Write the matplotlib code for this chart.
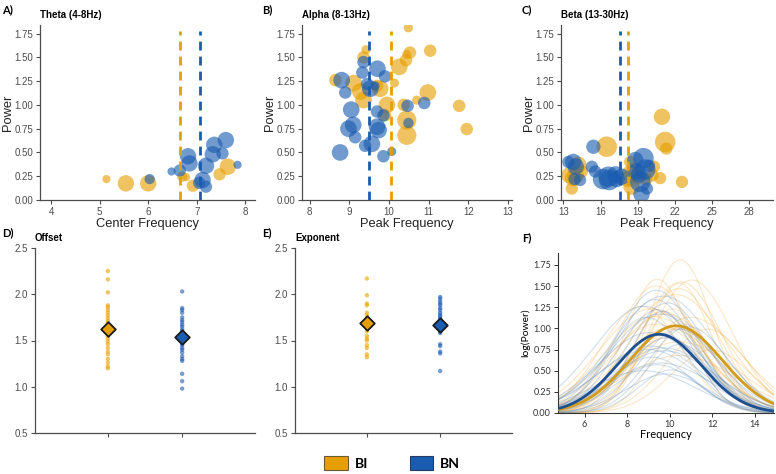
import numpy as np
import matplotlib
matplotlib.use("Agg")
import matplotlib.pyplot as plt
from matplotlib.patches import Patch

# ---------------- data ----------------
groups = ["BI", "BN"]
colors = ["#E69F00", "#1A5CB0"]

# Theta
theta_bi_cf = [5.14, 5.54, 6.00, 6.70, 6.78, 6.92, 7.47, 7.64]
theta_bi_pw = [0.22, 0.175, 0.175, 0.245, 0.24, 0.15, 0.27, 0.35]
theta_bi_bw = [2.0, 4.0, 4.0, 2.5, 2.0, 3.0, 3.0, 4.0]
theta_bn_cf = [6.03, 6.48, 6.65, 6.82, 6.85, 7.05, 7.12, 7.19, 7.19, 7.33, 7.36, 7.53, 7.60, 7.84]
theta_bn_pw = [0.22, 0.30, 0.31, 0.46, 0.385, 0.18, 0.21, 0.14, 0.36, 0.48, 0.58, 0.49, 0.63, 0.37]
theta_bn_bw = [2.5, 2.0, 3.0, 4.0, 4.0, 3.0, 4.0, 3.0, 4.0, 4.0, 4.0, 3.0, 4.0, 2.0]
theta_mean_cf = [6.66, 7.06]

# Alpha
alpha_bi_cf = [10.49, 11.04, 10.53, 10.45, 10.43, 10.26, 9.42, 9.36, 10.14, 8.65, 9.11, 9.28,
               9.36, 9.78, 9.95, 10.37, 10.70, 10.98, 11.77, 11.96, 10.45, 10.45, 9.90, 9.70]
alpha_bi_pw = [1.81, 1.57, 1.55, 1.53, 1.47, 1.40, 1.58, 1.50, 1.23, 1.26, 1.23, 1.14,
               1.05, 1.17, 1.00, 1.00, 1.05, 1.13, 0.99, 0.746, 0.84, 0.68, 0.89, 1.20]
alpha_bi_bw = [2.2, 3.0, 3.0, 2.2, 3.0, 4.0, 2.2, 3.0, 2.2, 3.0, 4.0, 4.0,
               4.0, 4.0, 4.0, 3.0, 2.2, 4.0, 3.0, 3.0, 4.6, 4.6, 3.0, 3.0]
alpha_bn_cf = [8.77, 9.40, 9.57, 9.86, 10.07, 9.15, 8.98, 9.10, 9.74, 9.70, 9.05, 9.70, 9.86,
               10.47, 10.49, 10.89, 8.90, 8.81, 9.33, 9.36, 9.71, 9.90, 9.53, 9.65, 9.45]
alpha_bn_pw = [0.50, 0.57, 0.59, 0.46, 0.51, 0.66, 0.75, 0.79, 0.735, 0.77, 0.95, 0.93, 0.89,
               0.99, 0.81, 1.02, 1.13, 1.26, 1.34, 1.45, 1.38, 1.30, 1.17, 1.20, 1.22]
alpha_bn_bw = [4.0, 3.0, 4.0, 3.0, 2.2, 3.0, 4.0, 4.0, 4.0, 4.0, 4.0, 3.0, 3.0,
               3.0, 2.5, 3.0, 3.0, 4.0, 3.0, 3.0, 4.0, 3.0, 4.0, 2.2, 3.0]
alpha_mean_cf = [10.04, 9.51]

# Beta
beta_bi_cf = [20.95, 21.21, 21.3, 16.5, 22.56, 20.8, 18.38, 18.4, 18.5, 13.68, 13.8, 14.2, 20.3,
              19.0, 14.5, 14.0, 13.5, 18.2, 19.7, 20.2, 18.6]
beta_bi_pw = [0.875, 0.61, 0.54, 0.56, 0.19, 0.23, 0.40, 0.28, 0.14, 0.12, 0.23, 0.37, 0.35,
              0.25, 0.30, 0.26, 0.26, 0.22, 0.22, 0.26, 0.33]
beta_bi_bw = [4.0, 5.0, 3.0, 5.0, 3.0, 3.0, 3.0, 4.0, 4.0, 3.0, 4.0, 4.0, 3.0,
              4.0, 3.0, 4.0, 4.0, 4.0, 3.0, 3.0, 3.0]
beta_bn_cf = [15.42, 13.4, 13.8, 15.3, 15.56, 16.64, 16.7, 17.7, 19.46, 19.6, 19.2, 19.74, 14.35,
              19.9, 17.3, 18.9, 14.0, 13.9, 16.2, 17.2, 19.3, 18.8, 19.1]
beta_bn_pw = [0.56, 0.40, 0.40, 0.35, 0.30, 0.245, 0.21, 0.245, 0.44, 0.32, 0.19, 0.12, 0.21,
              0.36, 0.22, 0.30, 0.35, 0.22, 0.22, 0.27, 0.06, 0.42, 0.27]
beta_bn_bw = [3.5, 3.0, 4.0, 3.0, 3.0, 5.0, 5.0, 4.0, 5.0, 5.0, 5.0, 3.0, 3.0,
              3.0, 4.0, 4.0, 4.0, 3.0, 5.0, 4.0, 4.0, 4.0, 4.0]
beta_mean_cf = [18.25, 17.6]

# Offset / exponent
offset_bi = [2.25, 2.16, 2.02, 1.88, 1.86, 1.83, 1.80, 1.77, 1.74, 1.71, 1.69, 1.67, 1.64, 1.62,
             1.60, 1.58, 1.55, 1.52, 1.49, 1.46, 1.42, 1.38, 1.35, 1.30, 1.26, 1.22, 1.20]
offset_bn = [2.03, 1.85, 1.83, 1.80, 1.75, 1.72, 1.70, 1.67, 1.65, 1.62, 1.60, 1.58, 1.55,
             1.52, 1.50, 1.47, 1.45, 1.42, 1.40, 1.37, 1.33, 1.30, 1.28, 1.14, 1.06, 0.98]
offset_mean = [1.62, 1.54]
exponent_bi = [2.17, 1.99, 1.90, 1.88, 1.80, 1.77, 1.73, 1.70, 1.68, 1.65, 1.60, 1.55,
               1.52, 1.50, 1.45, 1.42, 1.35, 1.32]
exponent_bn = [1.97, 1.95, 1.92, 1.90, 1.88, 1.85, 1.83, 1.80, 1.78, 1.76, 1.74, 1.72,
               1.70, 1.68, 1.66, 1.64, 1.62, 1.60, 1.58, 1.46, 1.44, 1.38, 1.36, 1.17]
exponent_mean = [1.69, 1.67]

# Group-average alpha peak (panel F): centre, height, sd
mean_peak_cf = [10.3, 9.5]
mean_peak_pw = [1.03, 0.93]
mean_peak_sd = [2.17, 1.98]

# ---------------- figure ----------------
W, H = 776, 474
fig = plt.figure(figsize=(W / 100, H / 100), dpi=100)

def rect(l, t, r, b):
    return [l / W, (H - b) / H, (r - l) / W, (b - t) / H]

axis_col = "#4d4d4d"
SANS = ["Liberation Sans", "DejaVu Sans"]
LATO = ["Lato", "DejaVu Sans"]

def style_gg(ax):
    for s in ["top", "right"]:
        ax.spines[s].set_visible(False)
    for s in ["left", "bottom"]:
        ax.spines[s].set_color(axis_col)
        ax.spines[s].set_linewidth(0.9)
    ax.tick_params(colors=axis_col, labelcolor="#4d4d4d", length=3, width=0.8,
                   labelsize=7, pad=2)
    for lab in ax.get_xticklabels() + ax.get_yticklabels():
        lab.set_family(SANS)

def bubble_panel(ax, bi, bn, means, xlim, xticks, title, xlabel, k):
    for (cf, pw, bw), c in zip([bi, bn], colors):
        s = [(k * b) ** 2 for b in bw]
        ax.scatter(cf, pw, s=s, color=c, alpha=0.62, edgecolors="none", zorder=2)
    for m, c in zip(means, colors):
        ax.vlines(m, 0, 1.78, colors=c, linestyles=(0, (3.2, 2.2)), linewidth=2.0, zorder=3)
    ax.set_xlim(*xlim)
    ax.set_ylim(0, 1.84)
    ax.set_xticks(xticks)
    ax.set_yticks([0, 0.25, 0.5, 0.75, 1.0, 1.25, 1.5, 1.75])
    ax.set_yticklabels(["0.00", "0.25", "0.50", "0.75", "1.00", "1.25", "1.50", "1.75"])
    style_gg(ax)
    ax.set_xlabel(xlabel, fontsize=9.3, family=SANS, labelpad=1, color="#222222")
    ax.set_ylabel("Power", fontsize=9.3, family=SANS, labelpad=0.5, color="#222222")
    ax.set_title(title, loc="left", fontsize=7, fontweight="bold", family=SANS, pad=5)

axA = fig.add_axes(rect(40, 25, 255, 200))
bubble_panel(axA, (theta_bi_cf, theta_bi_pw, theta_bi_bw), (theta_bn_cf, theta_bn_pw, theta_bn_bw),
             theta_mean_cf, (3.77, 8.2), [4, 5, 6, 7, 8], "Theta (4-8Hz)", "Center Frequency", 2.95)
axB = fig.add_axes(rect(302, 25, 512, 200))
bubble_panel(axB, (alpha_bi_cf, alpha_bi_pw, alpha_bi_bw), (alpha_bn_cf, alpha_bn_pw, alpha_bn_bw),
             alpha_mean_cf, (7.81, 13.1), [8, 9, 10, 11, 12, 13], "Alpha (8-13Hz)", "Peak Frequency", 3.0)
axC = fig.add_axes(rect(561, 25, 773, 200))
bubble_panel(axC, (beta_bi_cf, beta_bi_pw, beta_bi_bw), (beta_bn_cf, beta_bn_pw, beta_bn_bw),
             beta_mean_cf, (12.81, 29.9), [13, 16, 19, 22, 25, 28], "Beta (13-30Hz)", "Peak Frequency", 2.95)

def strip_panel(ax, vals, means, title):
    for i, (v, m, c) in enumerate(zip(vals, means, colors)):
        ax.scatter([i + 1] * len(v), v, s=10, color=c, alpha=0.6, edgecolors="none", zorder=2)
        ax.scatter([i + 1], [m], s=55, marker="D", color=c, edgecolors="#1a1a1a",
                   linewidths=1.3, zorder=3)
    ax.set_xlim(0.02, 2.98)
    ax.set_ylim(0.5, 2.5)
    ax.set_xticks([1, 2])
    ax.set_xticklabels(["", ""])
    ax.set_yticks([0.5, 1.0, 1.5, 2.0, 2.5])
    style_gg(ax)
    ax.set_title(title, loc="left", fontsize=7, fontweight="bold", family=SANS, pad=5)

axD = fig.add_axes(rect(35, 248, 255, 433))
strip_panel(axD, [offset_bi, offset_bn], offset_mean, "Offset")
axE = fig.add_axes(rect(295, 248, 512, 433))
strip_panel(axE, [exponent_bi, exponent_bn], exponent_mean, "Exponent")

# Panel F
axF = fig.add_axes(rect(558, 253, 774, 413))
freqs = np.linspace(4.75, 14.9, 300)
line_cols = ["#F2A93B", "#5B8DBF"]
for (cf, pw, bw), c in zip([(alpha_bi_cf, alpha_bi_pw, alpha_bi_bw),
                            (alpha_bn_cf, alpha_bn_pw, alpha_bn_bw)], line_cols):
    for f0, p0, b0 in zip(cf, pw, bw):
        sd = b0 / 2 + 0.4
        axF.plot(freqs, p0 * np.exp(-(freqs - f0) ** 2 / (2 * sd ** 2)), color=c,
                 alpha=0.28, linewidth=0.8, zorder=1)
mean_cols = ["#D39B1C", "#1D4F91"]
for f0, p0, sd, c in zip(mean_peak_cf, mean_peak_pw, mean_peak_sd, mean_cols):
    axF.plot(freqs, p0 * np.exp(-(freqs - f0) ** 2 / (2 * sd ** 2)), color=c, linewidth=2.0, zorder=3)
axF.set_xlim(4.75, 14.9)
axF.set_ylim(0, 1.89)
axF.set_xticks([6, 8, 10, 12, 14])
axF.set_yticks([0, 0.25, 0.5, 0.75, 1.0, 1.25, 1.5, 1.75])
axF.set_yticklabels(["0.00", "0.25", "0.50", "0.75", "1.00", "1.25", "1.50", "1.75"])
for s in ["top", "right"]:
    axF.spines[s].set_visible(False)
for s in ["left", "bottom"]:
    axF.spines[s].set_color("#333333")
    axF.spines[s].set_linewidth(0.8)
axF.tick_params(labelsize=6.5, length=3, width=0.7, pad=2, colors="#333333")
for lab in axF.get_xticklabels() + axF.get_yticklabels():
    lab.set_family(LATO)
axF.set_xlabel("Frequency", fontsize=8, family=LATO, labelpad=0)
axF.set_ylabel("log(Power)", fontsize=7.5, family=LATO, labelpad=2)

# panel letters
for txt, x, y in [("A)", 2, 10), ("B)", 262, 10), ("C)", 522, 10),
                  ("D)", 2, 233), ("E)", 262, 233), ("F)", 522, 238)]:
    fig.text(x / W, 1 - y / H, txt, fontsize=8, fontweight="bold", family=LATO,
             va="center", ha="left")

# legend
handles = [Patch(facecolor=c, edgecolor="#6b5a30" if i == 0 else "#243b66", linewidth=0.8, label=g)
           for i, (c, g) in enumerate(zip(colors, groups))]
leg = fig.legend(handles=handles, loc="center", bbox_to_anchor=(392 / W, 1 - 463 / H), ncol=2,
                 frameon=False, handlelength=1.7, handleheight=1.25, columnspacing=3.0,
                 handletextpad=0.5, prop={"family": LATO, "weight": "bold", "size": 10})

fig.savefig("out.png", dpi=100)
